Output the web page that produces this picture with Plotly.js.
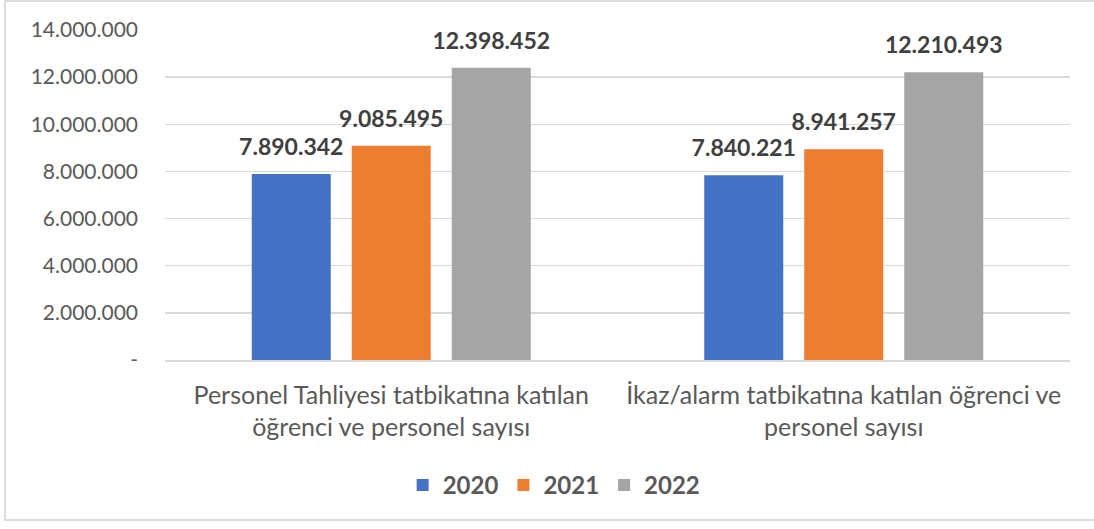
<!DOCTYPE html>
<html>
<head>
<meta charset="utf-8">
<script src="https://cdn.plot.ly/plotly-3.0.1.min.js"></script>
<style>
  html, body { margin: 0; padding: 0; background: #fff; overflow: hidden; }
  #chart { width: 1094px; height: 529px; }
  #frame { position: absolute; left: 4px; top: 0px; width: 1100px; height: 521px;
           border: 2px solid #DCDCDC; pointer-events: none; box-sizing: border-box; }
</style>
</head>
<body>
<div id="chart"></div>
<div id="frame"></div>
<script>
const categories = [
  "Personel Tahliyesi tatbikatına katılan<br>öğrenci ve personel sayısı",
  "İkaz/alarm tatbikatına katılan öğrenci ve<br>personel sayısı"
];
const seriesNames = ["2020", "2021", "2022"];
const values2020 = [7890342, 7840221];
const values2021 = [9085495, 8941257];
const values2022 = [12398452, 12210493];
const colors = ["#4472C4", "#ED7D31", "#A5A5A5"];
const tickVals = [0, 2000000, 4000000, 6000000, 8000000, 10000000, 12000000, 14000000];
const tickText = ["-", "2.000.000", "4.000.000", "6.000.000", "8.000.000", "10.000.000", "12.000.000", "14.000.000"];

const fmt = v => v.toString().replace(/\B(?=(\d{3})+(?!\d))/g, ".");
const allValues = [values2020, values2021, values2022];
const FONT = "Lato, 'Open Sans', sans-serif";

const traces = [];
allValues.forEach((vals, i) => {
  traces.push({
    type: "bar", name: seriesNames[i], x: categories, y: vals,
    marker: { color: colors[i] }, hoverinfo: "skip"
  });
});
allValues.forEach((vals, i) => {
  traces.push({
    type: "scatter", mode: "markers+text", x: categories, y: vals,
    text: vals.map(fmt), textposition: "top center",
    marker: { size: 20, opacity: 0, color: "rgba(0,0,0,0)" },
    textfont: { family: FONT, size: 23, color: "#404040", weight: "bold" },
    showlegend: false, hoverinfo: "skip", cliponaxis: false
  });
});

const layout = {
  width: 1094, height: 529,
  margin: { l: 165, r: 24, t: 30, b: 169 },
  paper_bgcolor: "#ffffff", plot_bgcolor: "#ffffff",
  barmode: "group", bargap: 0.337, bargroupgap: 0.21,
  scattermode: "group", scattergap: 0.337,
  font: { family: FONT, color: "#595959" },
  xaxis: {
    type: "category", showgrid: false, zeroline: false,
    showline: true, linecolor: "#D9D9D9", linewidth: 1.5,
    ticks: "", tickfont: { family: FONT, size: 25, color: "#595959" },
    ticklabelstandoff: 12
  },
  yaxis: {
    range: [0, 14000000], tickvals: tickVals, ticktext: tickText,
    showgrid: true, gridcolor: "#D9D9D9", gridwidth: 1.5,
    zeroline: false, showline: false, ticks: "",
    tickfont: { family: FONT, size: 21, color: "#595959" },
    ticklabelstandoff: 26
  },
  showlegend: true,
  legend: {
    orientation: "h", x: 0.43, xanchor: "center", y: -0.38, yanchor: "middle",
    font: { family: FONT, size: 24, color: "#595959", weight: "bold" },
    itemsizing: "constant", traceorder: "normal", itemwidth: 30
  }
};

Plotly.newPlot("chart", traces, layout, { displayModeBar: false, staticPlot: true });
</script>
</body>
</html>
